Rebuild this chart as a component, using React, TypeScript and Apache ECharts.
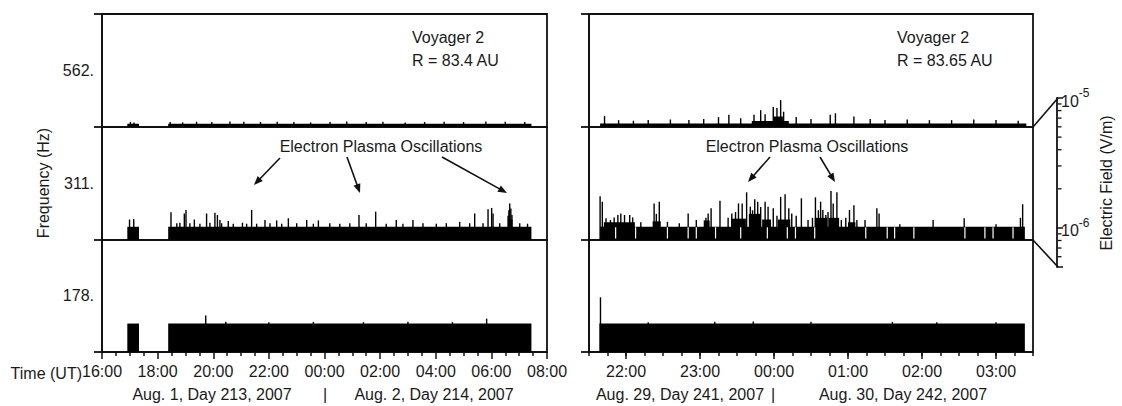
import React, { useEffect, useRef } from 'react';
import * as echarts from 'echarts';

// ---------------- data ----------------
// Frequency channels, bottom strip to top strip
const FREQUENCY_LABELS = ['178.', '311.', '562.'];
// Electric field in µV/m (1 µV/m = 10^-6 V/m)
const FIELD_MIN = 0.5;
const FIELD_MAX = 10;
const FIELD_MINOR_TICKS = [0.6, 0.7, 0.8, 0.9, 2, 3, 4, 5, 6, 7, 8, 9];
// time in hours since 00:00 UT of the first day of each panel
const LEFT_RANGE = [16, 32];
const RIGHT_RANGE = [21.5, 27.5];
const RIGHT_HOUR_TICKS = [22, 23, 24, 25, 26, 27];

// blocks: [start hour, end hour, field level]
const left562Blocks = [[16.91, 17.33, 0.545], [18.38, 31.44, 0.545]];
const left311Blocks = [[16.91, 17.33, 0.71], [18.38, 31.44, 0.71], [30.6, 30.76, 0.86]];
const left178Blocks = [[16.91, 17.33, 1.07], [18.38, 31.44, 1.07]];
const right562Blocks = [[21.65, 27.41, 0.55], [23.7, 24.2, 0.585], [24.0, 24.12, 0.66]];
const right311Blocks = [
  [21.65, 27.39, 0.71], [21.7, 22.12, 0.8], [22.36, 22.47, 0.82], [23.05, 23.13, 0.84],
  [23.42, 23.62, 0.88], [23.66, 23.82, 1.0], [23.84, 23.96, 0.86], [24.05, 24.22, 0.86],
  [24.55, 24.72, 0.9], [24.74, 24.88, 0.9], [25.0, 25.1, 0.8],
];
const right178Blocks = [[21.64, 27.39, 1.07]];

// spikes: [hour, field]
const left562Spikes = [
  [17.02, 0.57], [17.15, 0.565], [18.45, 0.57], [18.9, 0.565], [19.4, 0.575], [19.95, 0.57],
  [20.6, 0.58], [21.1, 0.575], [21.7, 0.57], [22.3, 0.575], [22.9, 0.57], [23.5, 0.565],
  [24.2, 0.57], [24.8, 0.58], [25.5, 0.57], [26.1, 0.575], [26.9, 0.565], [27.6, 0.57],
  [28.3, 0.575], [29.0, 0.57], [29.8, 0.58], [30.5, 0.575], [31.2, 0.57],
];
const left311Spikes = [
  [16.99, 0.86], [17.14, 0.87], [18.48, 1.04], [18.69, 0.78], [18.8, 0.79], [18.96, 1.01],
  [19.02, 1.11], [19.16, 0.78], [19.32, 0.86], [19.52, 0.77], [19.76, 1.01], [19.88, 0.79],
  [20.06, 1.03], [20.15, 0.97], [20.24, 0.85], [20.3, 0.78], [20.54, 0.83], [20.72, 0.77],
  [21.05, 0.79], [21.2, 0.77], [21.38, 1.11], [21.56, 0.77], [21.86, 0.85], [22.04, 0.78],
  [22.28, 0.84], [22.46, 0.77], [22.7, 0.89], [23.0, 0.78], [23.36, 0.85], [23.6, 0.77],
  [23.78, 0.84], [24.19, 0.78], [24.55, 0.77], [24.91, 0.78], [25.24, 0.97], [25.5, 0.78],
  [25.84, 1.06], [26.22, 0.77], [26.58, 0.85], [26.82, 0.77], [27.18, 0.85], [27.54, 0.78],
  [28.02, 0.77], [28.38, 0.78], [28.86, 0.81], [29.22, 0.78], [29.4, 1.01], [29.7, 0.78],
  [29.88, 1.13], [30.01, 1.17], [30.06, 1.01], [30.3, 0.78], [30.6, 0.95], [30.63, 1.1],
  [30.66, 1.32], [30.7, 1.15], [30.74, 0.97], [31.02, 0.78], [31.3, 0.77],
];
const left178Spikes = [
  [19.73, 1.33], [20.45, 1.12], [22.0, 1.11], [23.6, 1.12], [25.4, 1.11], [27.0, 1.12],
  [28.6, 1.11], [29.83, 1.22],
];
const right562Spikes = [
  [21.71, 0.67], [21.9, 0.6], [22.1, 0.59], [22.3, 0.6], [22.6, 0.61], [22.85, 0.6],
  [23.05, 0.62], [23.25, 0.65], [23.39, 0.69], [23.55, 0.63], [23.73, 0.69], [23.82, 0.78],
  [23.88, 0.7], [23.99, 0.85], [24.04, 0.83], [24.09, 1.02], [24.13, 0.75], [24.3, 0.65],
  [24.5, 0.62], [24.76, 0.69], [24.83, 0.72], [25.08, 0.66], [25.3, 0.62], [25.5, 0.6],
  [25.8, 0.61], [26.1, 0.6], [26.4, 0.6], [26.7, 0.61], [27.0, 0.6], [27.3, 0.59],
];
const right311Spikes = [
  [21.65, 1.6], [21.68, 1.38], [21.73, 0.89], [21.79, 0.85], [21.84, 0.91], [21.89, 0.97],
  [21.93, 1.01], [21.98, 0.97], [22.05, 0.97], [22.09, 0.91], [22.2, 0.8], [22.38, 1.32],
  [22.41, 1.0], [22.45, 1.38], [22.56, 0.81], [22.72, 0.78], [22.84, 1.01], [22.95, 0.85],
  [23.08, 0.9], [23.11, 1.01], [23.15, 1.16], [23.27, 1.42], [23.38, 0.9], [23.43, 1.01],
  [23.48, 1.05], [23.52, 1.32], [23.57, 1.32], [23.63, 1.77], [23.68, 1.21], [23.71, 1.1],
  [23.74, 1.47], [23.78, 1.38], [23.82, 1.2], [23.88, 1.38], [23.92, 1.21], [23.99, 1.16],
  [24.04, 0.95], [24.09, 1.57], [24.15, 1.68], [24.2, 1.16], [24.24, 1.01], [24.3, 0.95],
  [24.37, 1.51], [24.46, 0.85], [24.52, 0.9], [24.56, 1.55], [24.6, 1.1], [24.63, 1.38],
  [24.66, 1.11], [24.7, 0.97], [24.73, 1.05], [24.77, 1.83], [24.8, 1.32], [24.85, 1.77],
  [24.91, 0.85], [24.97, 0.9], [25.02, 1.11], [25.08, 1.26], [25.12, 0.85], [25.23, 0.85],
  [25.39, 1.16], [25.42, 1.01], [25.7, 0.76], [26.15, 0.85], [26.57, 0.89], [27.0, 0.76],
  [27.33, 0.9], [27.36, 1.29],
];
const right178Spikes = [
  [21.655, 2.16], [22.3, 1.11], [23.2, 1.12], [23.72, 1.13], [24.5, 1.12], [25.6, 1.12],
  [26.2, 1.11], [27.0, 1.11],
];
// data drop-outs (hours) in the right 311 Hz channel
const right311Gaps = [
  21.86, 22.13, 22.56, 22.84, 22.95, 23.21, 23.55, 23.91, 24.18, 24.29, 24.55, 25.24,
  25.53, 25.63, 25.89, 26.58, 26.85, 26.96, 27.23,
];

// ---------------- layout & style ----------------
const INK = '#111';
const TEXT = '#1a1a1a';
const FONT = '"Liberation Sans", Arial, sans-serif';
const FRAME_W = 1.8;
const PANELS = [
  { left: 102, right: 547 },
  { left: 589, right: 1033 },
];
const STRIPS = [
  { top: 14, height: 113 },
  { top: 127, height: 113 },
  { top: 240, height: 112 },
];
const BRACKET = { x: 1058, top: 98, bottom: 267 };

const hh = (v: number) => {
  const h = ((Math.round(v) % 24) + 24) % 24;
  return (h < 10 ? '0' : '') + h + ':00';
};

function blockItem(_p: any, api: any) {
  const a = api.coord([api.value(0), api.value(2)]);
  const b = api.coord([api.value(1), FIELD_MIN]);
  return {
    type: 'rect',
    shape: { x: a[0], y: a[1], width: b[0] - a[0], height: b[1] - a[1] },
    style: { fill: '#000' },
  };
}
function spikeItem(_p: any, api: any) {
  const a = api.coord([api.value(0), api.value(1)]);
  const b = api.coord([api.value(0), FIELD_MIN]);
  return {
    type: 'rect',
    shape: { x: a[0] - 0.7, y: a[1], width: 1.4, height: b[1] - a[1] },
    style: { fill: '#000' },
  };
}
function gapItem(_p: any, api: any) {
  const a = api.coord([api.value(0), api.value(1)]);
  const b = api.coord([api.value(0), FIELD_MIN]);
  return {
    type: 'rect',
    shape: { x: a[0] - 0.6, y: a[1] + 0.5, width: 1.2, height: b[1] - a[1] - 2 },
    style: { fill: '#fff' },
  };
}

function arrow(x1: number, y1: number, x2: number, y2: number) {
  const dx = x2 - x1, dy = y2 - y1;
  const len = Math.hypot(dx, dy);
  const ux = dx / len, uy = dy / len;
  const hl = 9, hw = 3.6;
  const bx = x2 - ux * hl, by = y2 - uy * hl;
  return [
    { type: 'line', shape: { x1, y1, x2: bx + ux * 1, y2: by + uy * 1 }, style: { stroke: INK, lineWidth: 1.6 } },
    {
      type: 'polygon',
      shape: { points: [[x2, y2], [bx - uy * hw, by + ux * hw], [bx + uy * hw, by - ux * hw]] },
      style: { fill: INK },
    },
  ];
}

function txt(text: string, x: number, y: number, align: string, extra: any = {}) {
  return {
    type: 'text',
    x, y,
    ...extra,
    style: { text, fontSize: 16, fontFamily: FONT, fill: TEXT, align, verticalAlign: 'middle' },
  };
}

function buildOption() {
  const grid: any[] = [];
  const xAxis: any[] = [];
  const yAxis: any[] = [];
  const series: any[] = [];

  const panelData = [
    {
      range: LEFT_RANGE,
      strips: [
        { blocks: left562Blocks, spikes: left562Spikes, gaps: [] as number[], level: 0.545 },
        { blocks: left311Blocks, spikes: left311Spikes, gaps: [] as number[], level: 0.71 },
        { blocks: left178Blocks, spikes: left178Spikes, gaps: [] as number[], level: 1.07 },
      ],
    },
    {
      range: RIGHT_RANGE,
      strips: [
        { blocks: right562Blocks, spikes: right562Spikes, gaps: [] as number[], level: 0.55 },
        { blocks: right311Blocks, spikes: right311Spikes, gaps: right311Gaps, level: 0.71 },
        { blocks: right178Blocks, spikes: right178Spikes, gaps: [] as number[], level: 1.07 },
      ],
    },
  ];

  const tickLine = { color: INK, width: 1.5 };
  const labelStyle = { fontSize: 16, color: TEXT, fontFamily: FONT };

  panelData.forEach((pd, p) => {
    pd.strips.forEach((sd, s) => {
      const gi = grid.length;
      const P = PANELS[p];
      grid.push({
        left: P.left, top: STRIPS[s].top, width: P.right - P.left, height: STRIPS[s].height,
        show: true, borderColor: INK, borderWidth: FRAME_W, backgroundColor: 'transparent',
      });
      const bottom = s === 2;
      xAxis.push({
        gridIndex: gi, type: 'value', min: pd.range[0], max: pd.range[1],
        interval: p === 0 ? 2 : 0.25,
        axisLine: { show: false },
        axisTick: { show: bottom, length: p === 0 ? 7 : 4, lineStyle: tickLine },
        minorTick: { show: bottom && p === 0, splitNumber: 4, length: 4, lineStyle: tickLine },
        axisLabel: {
          show: bottom, margin: 11, ...labelStyle,
          formatter: (v: number) => (Math.abs(v - Math.round(v)) < 1e-6 ? hh(v) : ''),
        },
        splitLine: { show: false },
        minorSplitLine: { show: false },
      });
      yAxis.push({ gridIndex: gi, type: 'log', logBase: 10, min: FIELD_MIN, max: FIELD_MAX, show: false });
      series.push({
        type: 'custom', xAxisIndex: gi, yAxisIndex: gi, renderItem: blockItem,
        encode: { x: [0, 1], y: 2 }, data: sd.blocks,
      });
      series.push({
        type: 'custom', xAxisIndex: gi, yAxisIndex: gi, renderItem: spikeItem,
        encode: { x: 0, y: 1 }, data: sd.spikes,
      });
      if (sd.gaps.length) {
        series.push({
          type: 'custom', xAxisIndex: gi, yAxisIndex: gi, renderItem: gapItem,
          encode: { x: 0, y: 1 }, data: sd.gaps.map((t) => [t, sd.level]),
        });
      }
    });
  });

  // frequency axes (one per panel)
  PANELS.forEach((P, p) => {
    const gi = grid.length;
    grid.push({
      left: P.left, top: STRIPS[0].top, width: P.right - P.left,
      height: STRIPS[2].top + STRIPS[2].height - STRIPS[0].top, show: false,
    });
    xAxis.push({ gridIndex: gi, type: 'value', min: 0, max: 1, show: false });
    yAxis.push({
      gridIndex: gi, type: 'category', data: FREQUENCY_LABELS, boundaryGap: true,
      axisLine: { show: true, lineStyle: { color: INK, width: FRAME_W } },
      axisTick: { show: true, length: 8, lineStyle: { color: INK, width: FRAME_W } },
      axisLabel: { show: p === 0, margin: 8, ...labelStyle },
      splitLine: { show: false },
    });
  });

  // electric field bracket axis
  const bi = grid.length;
  grid.push({ left: BRACKET.x - 1, top: BRACKET.top, width: 1, height: BRACKET.bottom - BRACKET.top, show: false });
  xAxis.push({ gridIndex: bi, type: 'value', min: 0, max: 1, show: false });
  yAxis.push({
    gridIndex: bi, type: 'log', logBase: 10, min: FIELD_MIN, max: FIELD_MAX, position: 'right',
    axisLine: { show: true, lineStyle: { color: INK, width: FRAME_W } },
    axisTick: { show: true, length: 6, lineStyle: { color: INK, width: 1.5 } },
    axisLabel: {
      margin: 3,
      formatter: (v: number) => {
        if (Math.abs(v - 10) < 1e-6) return '{b|10}{s|-5}';
        if (Math.abs(v - 1) < 1e-6) return '{b|10}{s|-6}';
        return '';
      },
      rich: {
        b: { fontSize: 16, fontFamily: FONT, color: TEXT, lineHeight: 22, verticalAlign: 'middle', padding: [6, 0, 0, 0] },
        s: { fontSize: 12, fontFamily: FONT, color: TEXT, lineHeight: 12, verticalAlign: 'top' },
      },
    },
    splitLine: { show: false },
  });
  series.push({
    type: 'custom', xAxisIndex: bi, yAxisIndex: bi,
    encode: { x: 0, y: 1 },
    data: FIELD_MINOR_TICKS.map((v) => [1, v]),
    renderItem: (_p: any, api: any) => {
      const c = api.coord([1, api.value(1)]);
      return { type: 'line', shape: { x1: c[0], y1: c[1], x2: c[0] + 3.5, y2: c[1] }, style: { stroke: INK, lineWidth: 1.3 } };
    },
  });

  // longer hour ticks on the right time axis
  xAxis.push({
    gridIndex: 5, type: 'value', min: RIGHT_RANGE[0], max: RIGHT_RANGE[1], position: 'bottom',
    axisLine: { show: false },
    axisTick: { show: true, length: 7, customValues: RIGHT_HOUR_TICKS, lineStyle: tickLine },
    axisLabel: { show: false },
    splitLine: { show: false },
  });

  const R2 = PANELS[1].right;
  const graphic: any[] = [
    // bracket linking the 311 Hz strip to the field scale
    { type: 'line', shape: { x1: R2, y1: STRIPS[1].top, x2: BRACKET.x, y2: BRACKET.top }, style: { stroke: INK, lineWidth: 1.6 } },
    { type: 'line', shape: { x1: R2, y1: STRIPS[2].top, x2: BRACKET.x, y2: BRACKET.bottom }, style: { stroke: INK, lineWidth: 1.6 } },
    txt('Voyager 2', 412, 37, 'left'),
    txt('R = 83.4 AU', 412, 60, 'left'),
    txt('Voyager 2', 897, 37, 'left'),
    txt('R = 83.65 AU', 897, 60, 'left'),
    txt('Electron Plasma Oscillations', 381, 146, 'center'),
    txt('Electron Plasma Oscillations', 807, 146, 'center'),
    txt('Time (UT)', 82, 373, 'right'),
    txt('Aug. 1, Day 213, 2007', 212, 394, 'center'),
    txt('|', 325, 394, 'center'),
    txt('Aug. 2, Day 214, 2007', 434, 394, 'center'),
    txt('Aug. 29, Day 241, 2007', 680, 394, 'center'),
    txt('|', 773, 394, 'center'),
    txt('Aug. 30, Day 242, 2007', 903, 394, 'center'),
    txt('Frequency (Hz)', 43, 183, 'center', { rotation: Math.PI / 2 }),
    txt('Electric Field (V/m)', 1106, 183, 'center', { rotation: Math.PI / 2 }),
    ...arrow(280, 158, 254, 185),
    ...arrow(347, 157, 360, 193),
    ...arrow(442, 157, 507, 193),
    ...arrow(770, 157, 748, 182),
    ...arrow(820, 157, 835, 182),
  ];

  return {
    animation: false,
    backgroundColor: '#fff',
    grid, xAxis, yAxis, series, graphic,
  };
}

export default function App() {
  const ref = useRef<HTMLDivElement>(null);
  useEffect(() => {
    const chart = echarts.init(ref.current as HTMLDivElement, null, { renderer: 'svg' });
    chart.setOption(buildOption() as any);
    return () => chart.dispose();
  }, []);
  return (
    <div
      ref={ref}
      style={{ position: 'fixed', left: 0, top: 0, width: 1122, height: 406, background: '#fff' }}
    />
  );
}
